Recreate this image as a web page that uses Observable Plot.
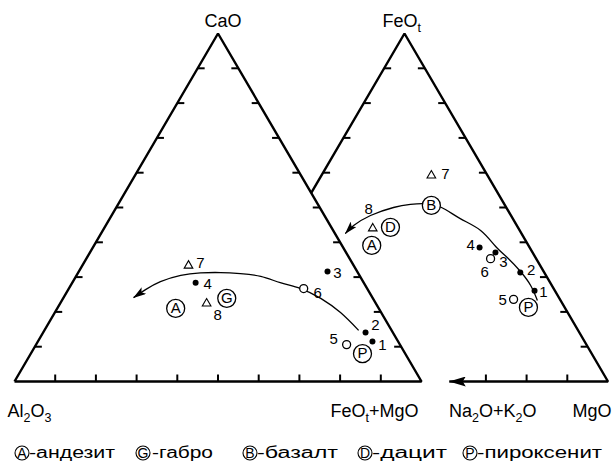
<!DOCTYPE html>
<html>
<head>
<meta charset="utf-8">
<script src="https://cdn.jsdelivr.net/npm/d3@7"></script>
<script src="https://cdn.jsdelivr.net/npm/@observablehq/plot@0.6"></script>
<style>
  body { margin: 0; background: #fff; }
  #chart svg { display: block; }
</style>
</head>
<body>
<div id="chart"></div>
<script>
// ---------------- DATA (wt.% normalised) ----------------
const sampleIds  = ["1", "2", "3", "4", "5", "6", "7", "8"];
const sampleKind = ["solid", "solid", "solid", "solid", "open", "open", "triangle", "triangle"];

// Left diagram: Al2O3 (lower left) – FeOt+MgO (lower right) – CaO (top)
const leftCaO  = [11.5, 14.1, 31.6, 28.4, 10.6, 26.7, 33.3, 22.4];
const leftFeMg = [82.2, 79.2, 61.1, 30.3, 76.3, 57.7, 26.1, 36.0];

// Right diagram: Na2O+K2O (lower left) – MgO (lower right) – FeOt (top)
const rightFeO = [26.1, 31.3, 37.1, 38.5, 23.6, 35.3, 59.2, 44.0];
const rightMgO = [68.9, 62.8, 53.8, 49.2, 65.0, 53.5, 27.0, 20.2];

// Reference rocks
const rockLetters = ["A", "G", "B", "D", "P"];
const rockNames   = ["андезит", "габро", "базалт", "дацит", "пироксенит"];
const leftRocks     = ["A", "G", "P"];
const leftRockCaO   = [21.0, 23.9, 8.0];
const leftRockFeMg  = [29.1, 40.2, 81.5];
const rightRocks    = ["A", "B", "D", "P"];
const rightRockFeO  = [39.1, 50.6, 44.3, 21.3];
const rightRockMgO  = [22.4, 31.3, 24.4, 69.8];

// Trend curves (arrow at the last point)
const leftTrendCaO   = [14.7, 19.8, 23.9, 26.7, 28.4, 30.2, 31.0, 31.3, 31.2, 30.5, 28.7, 26.4, 24.1];
const leftTrendFeMg  = [77.2, 70.2, 63.3, 56.9, 51.1, 45.4, 40.0, 35.0, 30.1, 25.6, 21.5, 19.0, 17.2];
const rightTrendFeO  = [23.3, 27.6, 31.6, 35.3, 38.8, 43.4, 46.8, 50.0, 51.1, 50.9, 50.0, 47.7, 44.8, 42.5];
const rightTrendMgO  = [71.0, 67.2, 62.7, 57.9, 53.0, 47.0, 40.3, 34.1, 29.6, 26.0, 22.3, 17.8, 15.1, 14.2];

// Axis ticks (every 10 %) and vertex labels
const tickLevels = [10, 20, 30, 40, 50, 60, 70, 80, 90];
const leftVertexLabels  = ["Al_2O_3", "FeO_t+MgO", "CaO"];
const rightVertexLabels = ["Na_2O+K_2O", "MgO", "FeO_t"];
const baseArrowMgO = 61;   // right diagram base line is drawn from MgO = 100 % down to here

// ---------------- LAYOUT ----------------
const FONT = "'Liberation Sans', Arial, Helvetica, sans-serif";
const W = 615, H = 425, TOTAL_H = 467;
const margin = {left: 14, right: 7.5, top: 33, bottom: 44};
const shift = 0.4582;                                   // right triangle offset (triangle widths)
const kx = (W - margin.left - margin.right) / (1 + shift); // px per unit along x
const ky = H - margin.top - margin.bottom;                // px per unit along y

const leftLabelOffset  = [[10, 4], [10, -7], [10, 2], [12, 2], [-13, -5], [14, 5], [12, -2], [11, 12]];
const rightLabelOffset = [[9, 2], [11, -2], [8, 10], [-9, -2], [-11, 1], [-6, 14], [14, -1], [-4, -19]];

// ternary (top %, right %) -> plane coordinates
function tern(top, right, off) { return {x: off + right / 100 + top / 200, y: top / 100}; }

// samples
const samples = [];
sampleIds.forEach((id, i) => {
  const a = tern(leftCaO[i], leftFeMg[i], 0);
  samples.push({id, kind: sampleKind[i], ...a,
    lx: a.x + leftLabelOffset[i][0] / kx, ly: a.y - leftLabelOffset[i][1] / ky});
  const b = tern(rightFeO[i], rightMgO[i], shift);
  samples.push({id, kind: sampleKind[i], ...b,
    lx: b.x + rightLabelOffset[i][0] / kx, ly: b.y - rightLabelOffset[i][1] / ky});
});

const rocks = [
  ...leftRocks.map((l, i) => ({letter: l, ...tern(leftRockCaO[i], leftRockFeMg[i], 0)})),
  ...rightRocks.map((l, i) => ({letter: l, ...tern(rightRockFeO[i], rightRockMgO[i], shift)}))
];

const trends = [
  ...leftTrendCaO.map((c, i) => ({side: "L", ...tern(c, leftTrendFeMg[i], 0)})),
  ...rightTrendFeO.map((f, i) => ({side: "R", ...tern(f, rightTrendMgO[i], shift)}))
];

const leftOutline = [tern(0, 0, 0), tern(0, 100, 0), tern(100, 0, 0), tern(0, 0, 0)];
const hiddenLevel = (1 - shift) * 100; // where the right triangle's left edge meets the left triangle
const rightOutline = [tern(hiddenLevel, 0, shift), tern(100, 0, shift), tern(0, 100, shift), tern(0, baseArrowMgO, shift)];

// ticks
const tx = 7 / kx, ty = 7 / ky;
const ticks = [];
for (const L of tickLevels) {
  const a = tern(L, 0, 0);        ticks.push({x1: a.x, y1: a.y, x2: a.x + tx, y2: a.y});
  const b = tern(L, 100 - L, 0);  ticks.push({x1: b.x, y1: b.y, x2: b.x - tx, y2: b.y});
  const c = tern(0, L, 0);        ticks.push({x1: c.x, y1: c.y, x2: c.x, y2: c.y + ty});
  if (L > hiddenLevel) { const d = tern(L, 0, shift); ticks.push({x1: d.x, y1: d.y, x2: d.x + tx, y2: d.y}); }
  const e = tern(L, 100 - L, shift); ticks.push({x1: e.x, y1: e.y, x2: e.x - tx, y2: e.y});
  if (L > baseArrowMgO + 4) { const f = tern(0, L, shift); ticks.push({x1: f.x, y1: f.y, x2: f.x, y2: f.y + ty}); }
}

// vertex labels: [anchor, dx, dy(baseline)] relative to each vertex
const leftVertexPos  = [tern(0, 0, 0), tern(0, 100, 0), tern(100, 0, 0)];
const rightVertexPos = [tern(0, 100, shift), tern(0, 100, shift), tern(100, 0, shift)];
const leftVertexLayout  = [["start", -7, 35], ["end", -3, 35], ["middle", 5, -7]];
const rightVertexLayout = [["end", -71.5, 35], ["end", 3.5, 35], ["start", -22, -7]];
const vertexLabels = [];
leftVertexLabels.forEach((t, i) => {
  const [anchor, dx, dy] = leftVertexLayout[i], p = leftVertexPos[i];
  vertexLabels.push({text: t, anchor, x: p.x + dx / kx, y: p.y - dy / ky});
});
rightVertexLabels.forEach((t, i) => {
  const [anchor, dx, dy] = rightVertexLayout[i], p = rightVertexPos[i];
  vertexLabels.push({text: t, anchor, x: p.x + dx / kx, y: p.y - dy / ky});
});

// ---------------- PLOT ----------------
const edgeStyle = {x: "x", y: "y", stroke: "black", strokeWidth: 2.4, strokeLinejoin: "miter", strokeLinecap: "butt"};
const chart = Plot.plot({
  width: W, height: H,
  marginLeft: margin.left, marginRight: margin.right, marginTop: margin.top, marginBottom: margin.bottom,
  x: {domain: [0, 1 + shift], axis: null},
  y: {domain: [0, 1], axis: null},
  style: {background: "white", fontFamily: FONT, overflow: "visible"},
  marks: [
    Plot.line(leftOutline, edgeStyle),
    Plot.line(rightOutline, edgeStyle),
    Plot.link(ticks, {x1: "x1", y1: "y1", x2: "x2", y2: "y2", stroke: "black", strokeWidth: 2}),
    Plot.line(trends, {x: "x", y: "y", z: "side", curve: "natural", stroke: "black", strokeWidth: 1.3, strokeLinecap: "butt"}),
    Plot.dot(samples.filter(d => d.kind === "solid"), {x: "x", y: "y", r: 3, fill: "black"}),
    Plot.dot(samples.filter(d => d.kind === "open"), {x: "x", y: "y", r: 4, fill: "white", stroke: "black", strokeWidth: 1.3}),
    Plot.dot(samples.filter(d => d.kind === "triangle"), {x: "x", y: "y", r: 3.2, symbol: "triangle", fill: "none", stroke: "black", strokeWidth: 1.1}),
    Plot.text(samples, {x: "lx", y: "ly", text: "id", fontSize: 15, fill: "black"}),
    Plot.dot(rocks, {x: "x", y: "y", r: 9, fill: "white", stroke: "black", strokeWidth: 1.3}),
    Plot.text(rocks, {x: "x", y: "y", text: "letter", fontSize: 15, fill: "black"}),
    ...["start", "middle", "end"].map(a =>
      Plot.text(vertexLabels.filter(d => d.anchor === a), {x: "x", y: "y", text: "text", textAnchor: a, lineAnchor: "bottom", fontSize: 18, fill: "black"}))
  ]
});
document.getElementById("chart").appendChild(chart);

// arrowhead markers
const ns = "http://www.w3.org/2000/svg";
const svg = d3.select(chart);
const defs = svg.insert("defs", ":first-child");
function marker(id, len, wid, notch) {
  defs.append("marker").attr("id", id)
    .attr("viewBox", `0 0 ${len} ${wid}`).attr("refX", len - 0.5).attr("refY", wid / 2)
    .attr("markerWidth", len).attr("markerHeight", wid)
    .attr("markerUnits", "userSpaceOnUse").attr("orient", "auto")
    .append("path").attr("d", `M0,0L${len},${wid / 2}L0,${wid}L${notch},${wid / 2}Z`)
    .attr("fill", "black").attr("stroke", "none");
}
marker("arrowSmall", 13, 8, 3);
marker("arrowBig", 17, 10, 3);
const lineGroups = chart.querySelectorAll('g[aria-label="line"]');
lineGroups[1].querySelectorAll("path").forEach(p => p.setAttribute("marker-end", "url(#arrowBig)"));
lineGroups[2].querySelectorAll("path").forEach(p => p.setAttribute("marker-end", "url(#arrowSmall)"));

// subscripts ("_x" -> subscript x)
chart.querySelectorAll("text").forEach(t => {
  const s = t.textContent;
  if (!s.includes("_")) return;
  const parts = s.split(/_(.)/);
  t.textContent = "";
  let shifted = false;
  parts.forEach((p, i) => {
    if (!p) return;
    const ts = document.createElementNS(ns, "tspan");
    ts.textContent = p;
    if (i % 2 === 1) {
      ts.setAttribute("font-size", "12.5");
      if (!shifted) { ts.setAttribute("dy", "5"); shifted = true; }
    } else if (shifted) {
      ts.setAttribute("dy", "-5"); shifted = false;
    }
    t.appendChild(ts);
  });
});

// ---------------- LEGEND (below the plot) ----------------
const legendLayout = {
  cy: 28, r: 7, baseline: 33,
  circleX: [22, 143, 250, 365, 470],
  textX:   [29, 152, 257, 372, 477],
  textEnd: [115, 213, 338, 447, 602]
};
const lg = d3.create("svg").attr("width", W).attr("height", TOTAL_H - H)
  .style("display", "block").style("font-family", FONT).style("background", "white");
rockLetters.forEach((l, i) => {
  const cx = legendLayout.circleX[i];
  lg.append("circle").attr("cx", cx).attr("cy", legendLayout.cy).attr("r", legendLayout.r)
    .attr("fill", "white").attr("stroke", "black").attr("stroke-width", 1.1);
  lg.append("text").attr("x", cx).attr("y", legendLayout.cy).attr("dy", "0.36em")
    .attr("text-anchor", "middle").attr("font-size", 14).text(l);
  lg.append("text").attr("x", legendLayout.textX[i]).attr("y", legendLayout.baseline)
    .attr("font-size", 16)
    .attr("textLength", legendLayout.textEnd[i] - legendLayout.textX[i])
    .attr("lengthAdjust", "spacingAndGlyphs")
    .text("-" + rockNames[i]);
});
document.getElementById("chart").appendChild(lg.node());
</script>
</body>
</html>
